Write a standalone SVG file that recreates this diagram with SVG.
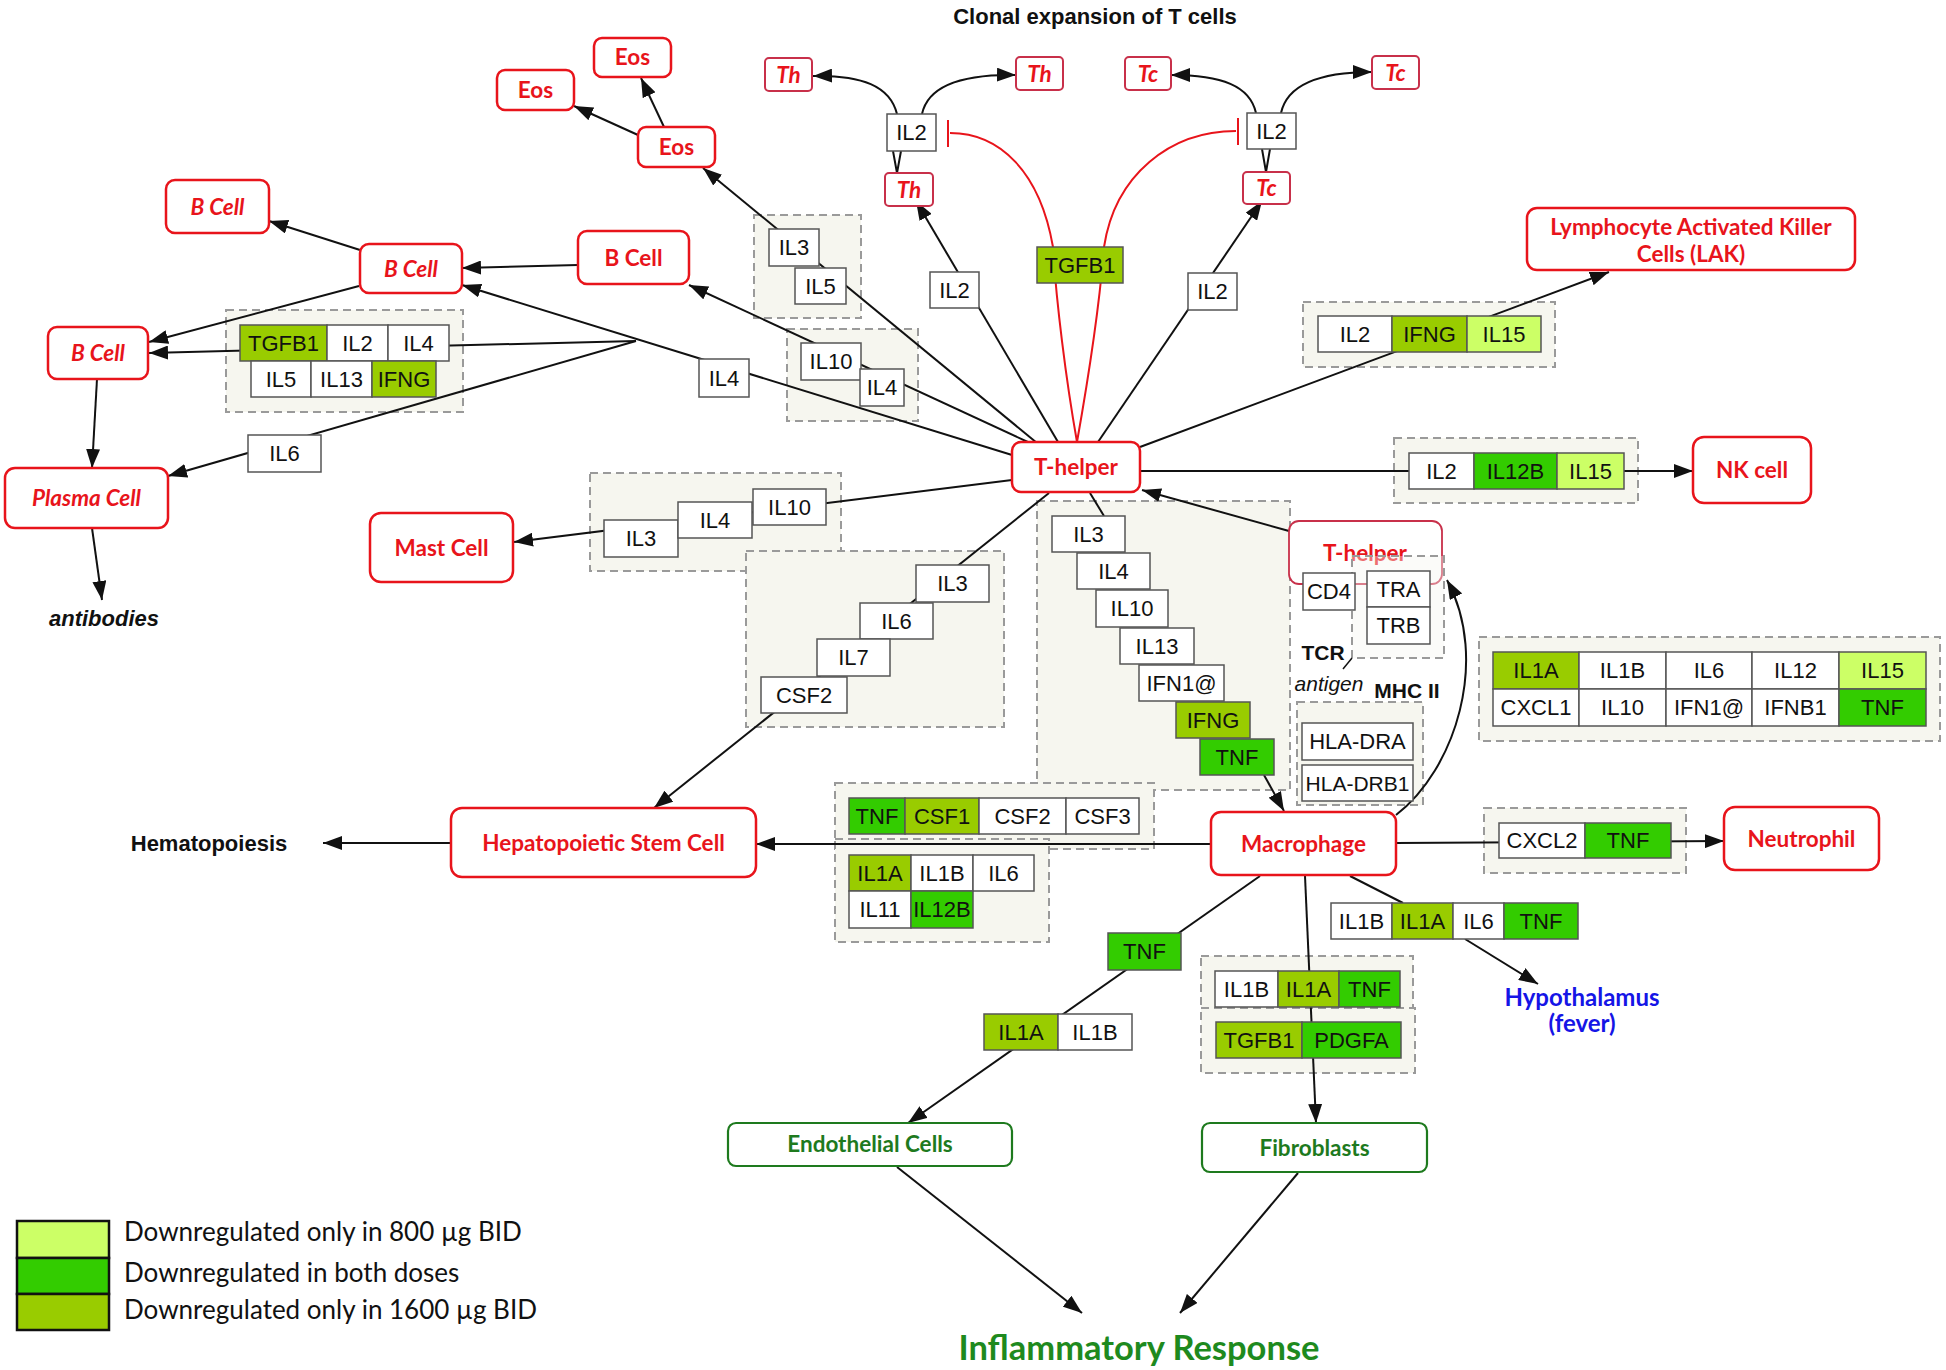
<svg xmlns="http://www.w3.org/2000/svg" width="1946" height="1370" viewBox="0 0 1946 1370">
<style>
.n{fill:#fff;stroke:#e8141b;stroke-width:2.5}
.ns{fill:#fff;stroke:#c8304a;stroke-width:2}
.ng{fill:#fff;stroke:#1e7a1e;stroke-width:2.2}
.nt{font-family:Lato,"Liberation Sans",sans-serif;font-weight:bold;fill:#e8141b;font-size:22.5px;text-anchor:middle}
.gtx{font-family:Lato,"Liberation Sans",sans-serif;font-weight:bold;fill:#1e7a1e;font-size:22.5px;text-anchor:middle}
.it{font-style:italic}
.b{fill:#fff;stroke:#555;stroke-width:1.5}
.c1{fill:#ccff66}.c2{fill:#33cc00}.c3{fill:#99cc00}
.t{font-family:"Liberation Sans",Arial,sans-serif;font-size:22px;fill:#111;text-anchor:middle}
.grp{fill:#f6f6ef;stroke:#9a9a9a;stroke-width:2;stroke-dasharray:8 5}
.e{stroke:#111;stroke-width:2;fill:none}
.ea{stroke:#111;stroke-width:2;fill:none;marker-end:url(#a)}
.r{stroke:#e8141b;stroke-width:2;fill:none}
.lab{font-family:"Liberation Sans",Arial,sans-serif;font-weight:bold;fill:#111;text-anchor:middle}
.leg{font-family:Lato,"Liberation Sans",sans-serif;font-size:26px;fill:#111}
</style>
<defs>
<marker id="a" markerWidth="19" markerHeight="14" refX="19" refY="7" orient="auto" markerUnits="userSpaceOnUse"><path d="M0,0 L19,7 L0,14 z" fill="#111"/></marker>
</defs>
<rect width="1946" height="1370" fill="#fff"/>

<text class="lab" x="1095" y="24" font-size="22">Clonal expansion of T cells</text>

<!-- group backgrounds -->
<g id="groups">
<rect class="grp" x="754" y="215" width="107" height="103"/>
<rect class="grp" x="787" y="329" width="131" height="92"/>
<rect class="grp" x="226" y="310" width="237" height="102"/>
<rect class="grp" x="1303" y="302" width="252" height="65"/>
<rect class="grp" x="1394" y="438" width="244" height="65"/>
<rect class="grp" x="590" y="473" width="251" height="98"/>
<rect class="grp" x="746" y="551" width="258" height="176"/>
<rect class="grp" x="1037" y="501" width="253" height="289"/>
<rect class="grp" x="1297" y="702" width="126" height="103"/>
<rect class="grp" x="1479" y="637" width="461" height="104"/>
<rect class="grp" x="1484" y="808" width="202" height="65"/>
<rect class="grp" x="835" y="783" width="319" height="66"/>
<rect class="grp" x="835" y="839" width="214" height="103"/>
<rect class="grp" x="1201" y="956" width="212" height="53"/>
<rect class="grp" x="1201" y="1008" width="214" height="65"/>
</g>

<!-- connectors -->
<g id="connectors">
<path class="ea" d="M638,135 L574,106"/>
<path class="ea" d="M664,127 L641,78"/>
<path class="ea" d="M1037,443 L703,168"/>
<path class="ea" d="M1030,443 L689,285"/>
<path class="ea" d="M1012,455 L462,285"/>
<path class="ea" d="M636,341 L149,353"/>
<path class="ea" d="M636,341 L168,476"/>
<path class="ea" d="M578,265 L462,268"/>
<path class="ea" d="M360,250 L269,221"/>
<path class="ea" d="M359,286 L149,342"/>
<path class="ea" d="M97,379 L92,468"/>
<path class="ea" d="M92,528 L102,600"/>
<path class="ea" d="M1058,442 L916,201"/>
<path class="ea" d="M1098,442 L1262,201"/>
<path class="ea" d="M897,114 C890,86 862,75 813,76"/>
<path class="ea" d="M922,114 C928,86 960,74 1016,75"/>
<path class="ea" d="M1256,113 C1250,86 1222,75 1171,75"/>
<path class="ea" d="M1281,113 C1287,86 1316,72 1372,72"/>
<path class="e" d="M893,151 L897,173 L901,151"/>
<path class="e" d="M1262,149 L1266,172 L1270,149"/>
<path class="r" d="M1077,442 C1066,380 1056,300 1053,247 C1040,172 1000,133 950,133"/>
<path class="r" d="M948,120 L948,147"/>
<path class="r" d="M1077,442 C1088,380 1100,300 1104,247 C1115,175 1170,131 1236,131"/>
<path class="r" d="M1238,118 L1238,145"/>
<path class="ea" d="M1140,447 L1609,272"/>
<path class="ea" d="M1140,471 L1693,471"/>
<path class="ea" d="M1012,480 L514,542"/>
<path class="ea" d="M1049,493 L654,808"/>
<path class="e" d="M1090,493 L1104,516"/>
<path class="ea" d="M1264,775 L1284,811"/>
<path class="ea" d="M1289,531 L1142,490"/>
<path class="ea" d="M1396,815 C1455,770 1490,660 1447,580"/>
<path class="ea" d="M1211,844 L756,844"/>
<path class="ea" d="M451,843 L323,843"/>
<path class="ea" d="M1396,843 L1724,841"/>
<path class="ea" d="M1260,876 L908,1123"/>
<path class="ea" d="M1305,876 L1316,1123"/>
<path class="e" d="M1350,876 L1403,903"/>
<path class="ea" d="M1465,939 L1538,984"/>
<path class="ea" d="M897,1167 L1082,1313"/>
<path class="ea" d="M1298,1173 L1180,1313"/>
</g>

<!-- cell nodes -->
<g id="eos1"><rect class="n" x="497" y="70" width="77" height="40" rx="8"/><text class="nt" x="535.5" y="98">Eos</text></g>
<g id="eos2"><rect class="n" x="594" y="38" width="77" height="39" rx="8"/><text class="nt" x="632.5" y="65">Eos</text></g>
<g id="eos3"><rect class="n" x="638" y="127" width="77" height="40" rx="8"/><text class="nt" x="676.5" y="155">Eos</text></g>
<g id="bcell1"><rect class="n" x="166" y="180" width="103" height="53" rx="9"/><text class="nt it" x="217.5" y="215">B Cell</text></g>
<g id="bcell2"><rect class="n" x="360" y="244" width="102" height="49" rx="9"/><text class="nt it" x="411" y="277">B Cell</text></g>
<g id="bcell3"><rect class="n" x="48" y="327" width="100" height="52" rx="9"/><text class="nt it" x="98" y="361">B Cell</text></g>
<g id="bcell4"><rect class="n" x="578" y="231" width="111" height="53" rx="9"/><text class="nt" x="633.5" y="266">B Cell</text></g>
<g id="plasma"><rect class="n" x="5" y="468" width="163" height="60" rx="10"/><text class="nt it" x="86.5" y="506">Plasma Cell</text></g>
<g id="mast"><rect class="n" x="370" y="513" width="143" height="69" rx="11"/><text class="nt" x="441.5" y="556">Mast Cell</text></g>
<g id="thelper"><rect class="n" x="1012" y="442" width="128" height="50" rx="9"/><text class="nt" x="1076" y="475">T-helper</text></g>
<g id="lak"><rect class="n" x="1527" y="208" width="328" height="62" rx="10"/><text class="nt" x="1691" y="235">Lymphocyte Activated Killer</text><text class="nt" x="1691" y="262">Cells (LAK)</text></g>
<g id="nk"><rect class="n" x="1693" y="437" width="118" height="66" rx="11"/><text class="nt" x="1752" y="478">NK cell</text></g>
<g id="macrophage"><rect class="n" x="1211" y="812" width="185" height="63" rx="10"/><text class="nt" x="1303.5" y="852">Macrophage</text></g>
<g id="neutrophil"><rect class="n" x="1724" y="807" width="155" height="63" rx="11"/><text class="nt" x="1801.5" y="847">Neutrophil</text></g>
<g id="hepato"><rect class="n" x="451" y="808" width="305" height="69" rx="11"/><text class="nt" x="603.5" y="851">Hepatopoietic Stem Cell</text></g>
<g id="endothelial"><rect class="ng" x="728" y="1123" width="284" height="43" rx="8"/><text class="gtx" x="870" y="1152">Endothelial Cells</text></g>
<g id="fibroblasts"><rect class="ng" x="1202" y="1123" width="225" height="49" rx="8"/><text class="gtx" x="1314.5" y="1156">Fibroblasts</text></g>

<g id="th1"><rect class="ns" x="765" y="58" width="47" height="33" rx="4"/><text class="nt it" x="788.5" y="83">Th</text></g>
<g id="th2"><rect class="ns" x="1016" y="57" width="47" height="33" rx="4"/><text class="nt it" x="1039.5" y="82">Th</text></g>
<g id="th3"><rect class="ns" x="885" y="173" width="48" height="33" rx="4"/><text class="nt it" x="909" y="198">Th</text></g>
<g id="tc1"><rect class="ns" x="1125" y="57" width="46" height="33" rx="4"/><text class="nt it" x="1148" y="82">Tc</text></g>
<g id="tc2"><rect class="ns" x="1372" y="56" width="47" height="33" rx="4"/><text class="nt it" x="1395.5" y="81">Tc</text></g>
<g id="tc3"><rect class="ns" x="1243" y="172" width="47" height="32" rx="4"/><text class="nt it" x="1266.5" y="196">Tc</text></g>

<!-- T-helper 2 with receptors -->
<g id="thelper2">
<rect fill="#fff" stroke="#c8304a" stroke-width="1.8" x="1289" y="521" width="153" height="63" rx="10"/>
<text class="nt" x="1365" y="561">T-helper</text>
<rect class="grp" x="1352" y="556" width="92" height="102" fill-opacity="0.4"/>
</g>
<g id="cd4"><rect class="b" x="1303" y="573" width="52" height="37"/><text class="t" x="1329" y="599">CD4</text></g>
<g id="tra"><rect class="b" x="1367" y="571" width="63" height="36"/><text class="t" x="1398.5" y="597">TRA</text></g>
<g id="trb"><rect class="b" x="1367" y="607" width="63" height="37"/><text class="t" x="1398.5" y="633">TRB</text></g>
<text class="lab" x="1323" y="660" font-size="21">TCR</text>
<path d="M1352,658 L1343,669" stroke="#111" stroke-width="1.5"/>
<text x="1329" y="691" style="font-family:'Liberation Sans',Arial,sans-serif;font-size:21px;font-style:italic;fill:#111;text-anchor:middle">antigen</text>
<text class="lab" x="1407" y="698" font-size="21">MHC II</text>
<g id="hla-dra"><rect class="b" x="1302" y="723" width="111" height="37"/><text class="t" x="1357.5" y="749">HLA-DRA</text></g>
<g id="hla-drb1"><rect class="b" x="1302" y="765" width="111" height="36"/><text class="t" x="1357.5" y="791" style="font-size:21px">HLA-DRB1</text></g>

<!-- gene boxes -->
<g id="il2-th"><rect class="b" x="887" y="114" width="49" height="37"/><text class="t" x="911.5" y="140">IL2</text></g>
<g id="il2-tc"><rect class="b" x="1247" y="113" width="49" height="36"/><text class="t" x="1271.5" y="139">IL2</text></g>
<g id="il2-a"><rect class="b" x="930" y="272" width="49" height="36"/><text class="t" x="954.5" y="298">IL2</text></g>
<g id="il2-b"><rect class="b" x="1188" y="273" width="49" height="37"/><text class="t" x="1212.5" y="299">IL2</text></g>
<g id="tgfb1"><rect class="b c3" x="1037" y="247" width="86" height="36"/><text class="t" x="1080" y="273">TGFB1</text></g>
<g id="il4-s"><rect class="b" x="699" y="359" width="50" height="38"/><text class="t" x="724" y="386">IL4</text></g>
<g id="il6-s"><rect class="b" x="248" y="435" width="73" height="37"/><text class="t" x="284.5" y="461">IL6</text></g>

<g id="grp-il3-il5">
<rect class="b" x="769" y="229" width="50" height="37"/><text class="t" x="794" y="255">IL3</text>
<rect class="b" x="795" y="268" width="51" height="36"/><text class="t" x="820.5" y="294">IL5</text>
</g>
<g id="grp-il10-il4">
<rect class="b" x="801" y="343" width="60" height="37"/><text class="t" x="831" y="369">IL10</text>
<rect class="b" x="860" y="369" width="44" height="37"/><text class="t" x="882" y="395">IL4</text>
</g>
<g id="grp-bcell">
<rect class="b c3" x="240" y="325" width="87" height="36"/><text class="t" x="283.5" y="351">TGFB1</text>
<rect class="b" x="327" y="325" width="61" height="36"/><text class="t" x="357.5" y="351">IL2</text>
<rect class="b" x="388" y="325" width="61" height="36"/><text class="t" x="418.5" y="351">IL4</text>
<rect class="b" x="251" y="361" width="60" height="36"/><text class="t" x="281" y="387">IL5</text>
<rect class="b" x="311" y="361" width="61" height="36"/><text class="t" x="341.5" y="387">IL13</text>
<rect class="b c3" x="372" y="361" width="64" height="36"/><text class="t" x="404" y="387">IFNG</text>
</g>
<g id="grp-lak">
<rect class="b" x="1318" y="316" width="74" height="36"/><text class="t" x="1355" y="342">IL2</text>
<rect class="b c3" x="1392" y="316" width="75" height="36"/><text class="t" x="1429.5" y="342">IFNG</text>
<rect class="b c1" x="1467" y="316" width="74" height="36"/><text class="t" x="1504" y="342">IL15</text>
</g>
<g id="grp-nk">
<rect class="b" x="1409" y="453" width="65" height="36"/><text class="t" x="1441.5" y="479">IL2</text>
<rect class="b c2" x="1474" y="453" width="83" height="36"/><text class="t" x="1515.5" y="479">IL12B</text>
<rect class="b c1" x="1557" y="453" width="67" height="36"/><text class="t" x="1590.5" y="479">IL15</text>
</g>
<g id="grp-mast">
<rect class="b" x="604" y="520" width="74" height="37"/><text class="t" x="641" y="546">IL3</text>
<rect class="b" x="678" y="502" width="74" height="36"/><text class="t" x="715" y="528">IL4</text>
<rect class="b" x="753" y="489" width="73" height="36"/><text class="t" x="789.5" y="515">IL10</text>
</g>
<g id="grp-hsc">
<rect class="b" x="916" y="565" width="73" height="37"/><text class="t" x="952.5" y="591">IL3</text>
<rect class="b" x="860" y="603" width="73" height="36"/><text class="t" x="896.5" y="629">IL6</text>
<rect class="b" x="817" y="639" width="73" height="37"/><text class="t" x="853.5" y="665">IL7</text>
<rect class="b" x="761" y="677" width="86" height="36"/><text class="t" x="804" y="703">CSF2</text>
</g>
<g id="grp-macro">
<rect class="b" x="1052" y="516" width="73" height="36"/><text class="t" x="1088.5" y="542">IL3</text>
<rect class="b" x="1077" y="553" width="73" height="36"/><text class="t" x="1113.5" y="579">IL4</text>
<rect class="b" x="1096" y="590" width="72" height="37"/><text class="t" x="1132" y="616">IL10</text>
<rect class="b" x="1120" y="628" width="74" height="36"/><text class="t" x="1157" y="654">IL13</text>
<rect class="b" x="1139" y="665" width="85" height="36"/><text class="t" x="1181.5" y="691">IFN1@</text>
<rect class="b c3" x="1176" y="702" width="74" height="36"/><text class="t" x="1213" y="728">IFNG</text>
<rect class="b c2" x="1200" y="739" width="74" height="36"/><text class="t" x="1237" y="765">TNF</text>
</g>
<g id="grp-table">
<rect class="b c3" x="1493" y="652" width="86" height="37"/><text class="t" x="1536" y="678">IL1A</text>
<rect class="b" x="1579" y="652" width="87" height="37"/><text class="t" x="1622.5" y="678">IL1B</text>
<rect class="b" x="1666" y="652" width="86" height="37"/><text class="t" x="1709" y="678">IL6</text>
<rect class="b" x="1752" y="652" width="87" height="37"/><text class="t" x="1795.5" y="678">IL12</text>
<rect class="b c1" x="1839" y="652" width="87" height="37"/><text class="t" x="1882.5" y="678">IL15</text>
<rect class="b" x="1493" y="689" width="86" height="37"/><text class="t" x="1536" y="715">CXCL1</text>
<rect class="b" x="1579" y="689" width="87" height="37"/><text class="t" x="1622.5" y="715">IL10</text>
<rect class="b" x="1666" y="689" width="86" height="37"/><text class="t" x="1709" y="715">IFN1@</text>
<rect class="b" x="1752" y="689" width="87" height="37"/><text class="t" x="1795.5" y="715">IFNB1</text>
<rect class="b c2" x="1839" y="689" width="87" height="37"/><text class="t" x="1882.5" y="715">TNF</text>
</g>
<g id="grp-neutro">
<rect class="b" x="1499" y="823" width="86" height="35"/><text class="t" x="1542" y="848">CXCL2</text>
<rect class="b c2" x="1585" y="823" width="86" height="35"/><text class="t" x="1628" y="848">TNF</text>
</g>
<g id="grp-csf">
<rect class="b c2" x="849" y="798" width="56" height="36"/><text class="t" x="877" y="824">TNF</text>
<rect class="b c3" x="905" y="798" width="74" height="36"/><text class="t" x="942" y="824">CSF1</text>
<rect class="b" x="979" y="798" width="87" height="36"/><text class="t" x="1022.5" y="824">CSF2</text>
<rect class="b" x="1066" y="798" width="73" height="36"/><text class="t" x="1102.5" y="824">CSF3</text>
</g>
<g id="grp-il1">
<rect class="b c3" x="849" y="855" width="62" height="36"/><text class="t" x="880" y="881">IL1A</text>
<rect class="b" x="911" y="855" width="62" height="36"/><text class="t" x="942" y="881">IL1B</text>
<rect class="b" x="973" y="855" width="61" height="36"/><text class="t" x="1003.5" y="881">IL6</text>
<rect class="b" x="849" y="891" width="62" height="37"/><text class="t" x="880" y="917">IL11</text>
<rect class="b c2" x="911" y="891" width="62" height="37"/><text class="t" x="942" y="917">IL12B</text>
</g>
<g id="tnf-endo"><rect class="b c2" x="1108" y="933" width="73" height="37"/><text class="t" x="1144.5" y="959">TNF</text></g>
<g id="il1-endo">
<rect class="b c3" x="984" y="1014" width="74" height="36"/><text class="t" x="1021" y="1040">IL1A</text>
<rect class="b" x="1058" y="1014" width="74" height="36"/><text class="t" x="1095" y="1040">IL1B</text>
</g>
<g id="grp-fibro">
<rect class="b" x="1215" y="971" width="63" height="36"/><text class="t" x="1246.5" y="997">IL1B</text>
<rect class="b c3" x="1278" y="971" width="61" height="36"/><text class="t" x="1308.5" y="997">IL1A</text>
<rect class="b c2" x="1339" y="971" width="61" height="36"/><text class="t" x="1369.5" y="997">TNF</text>
<rect class="b c3" x="1216" y="1022" width="86" height="36"/><text class="t" x="1259" y="1048">TGFB1</text>
<rect class="b c2" x="1302" y="1022" width="99" height="36"/><text class="t" x="1351.5" y="1048">PDGFA</text>
</g>
<g id="hypo-row">
<rect class="b" x="1331" y="903" width="61" height="36"/><text class="t" x="1361.5" y="929">IL1B</text>
<rect class="b c3" x="1392" y="903" width="61" height="36"/><text class="t" x="1422.5" y="929">IL1A</text>
<rect class="b" x="1453" y="903" width="51" height="36"/><text class="t" x="1478.5" y="929">IL6</text>
<rect class="b c2" x="1504" y="903" width="74" height="36"/><text class="t" x="1541" y="929">TNF</text>
</g>

<!-- plain labels -->
<g id="labels">
<text class="lab" x="104" y="626" font-size="22" font-style="italic">antibodies</text>
<text class="lab" x="209" y="851" font-size="22">Hematopoiesis</text>
<text x="1582" y="1006" font-family="Lato,'Liberation Sans',sans-serif" font-weight="bold" font-size="24" fill="#1515e6" text-anchor="middle">Hypothalamus</text>
<text x="1582" y="1032" font-family="Lato,'Liberation Sans',sans-serif" font-weight="bold" font-size="24" fill="#1515e6" text-anchor="middle">(fever)</text>
<text x="1139" y="1360" font-family="Lato,'Liberation Sans',sans-serif" font-weight="bold" font-size="34.5" fill="#1e8a1e" text-anchor="middle">Inflammatory Response</text>
</g>

<!-- legend -->
<g id="legend">
<rect x="17" y="1221" width="92" height="37" fill="#ccff66" stroke="#111" stroke-width="2.5"/>
<rect x="17" y="1258" width="92" height="36" fill="#33cc00" stroke="#111" stroke-width="2.5"/>
<rect x="17" y="1294" width="92" height="36" fill="#99cc00" stroke="#111" stroke-width="2.5"/>
<text class="leg" x="124" y="1241">Downregulated only in 800 µg BID</text>
<text class="leg" x="124" y="1282">Downregulated in both doses</text>
<text class="leg" x="124" y="1319">Downregulated only in 1600 µg BID</text>
</g>
</svg>
